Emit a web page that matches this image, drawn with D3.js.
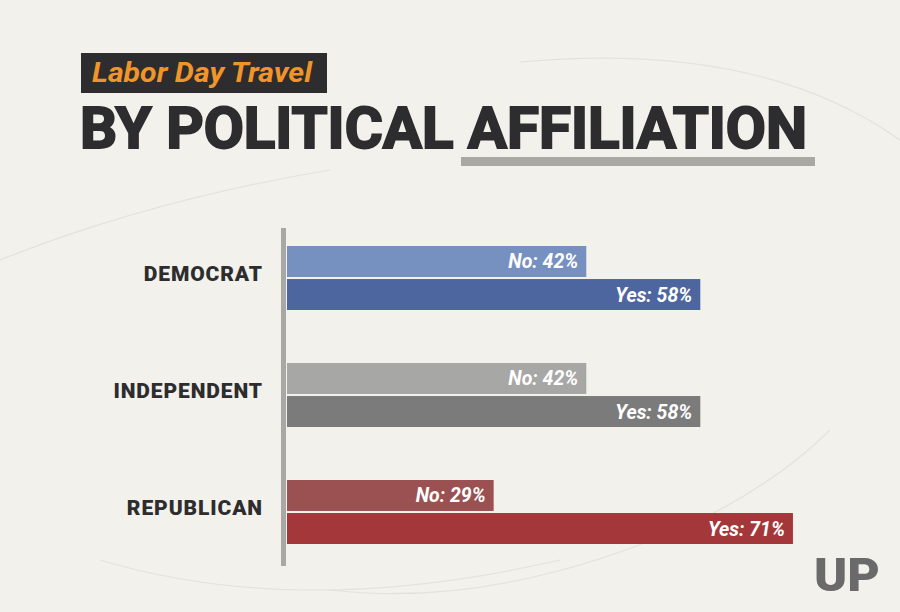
<!DOCTYPE html>
<html><head><meta charset="utf-8">
<script src="https://cdn.jsdelivr.net/npm/d3@7"></script>
<style>
html,body{margin:0;padding:0;background:#f2f1eb;}
svg{display:block;}
</style></head>
<body>
<script>
const categories = ["DEMOCRAT", "INDEPENDENT", "REPUBLICAN"];
const seriesNames = ["No", "Yes"];
const noValues = [42, 42, 29];
const yesValues = [58, 58, 71];
const colorsNo = ["#7690bf", "#a7a7a6", "#9b5051"];
const colorsYes = ["#4d66a0", "#7b7b7b", "#a3373a"];
const subtitle = "Labor Day Travel";
const title = "BY POLITICAL AFFILIATION";

const W = 900, H = 612;
const svg = d3.select("body").append("svg").attr("width", W).attr("height", H);

svg.append("rect").attr("width", W).attr("height", H).attr("fill", "#f2f1eb");

// faint decorative curves
const deco = svg.append("g").attr("fill", "none").attr("stroke", "#e4e2dc").attr("stroke-width", 1.2);
deco.append("path").attr("d", "M520,62 Q760,40 900,140");
deco.append("path").attr("d", "M0,260 Q150,200 330,170");
deco.append("path").attr("d", "M330,590 Q500,610 700,520 Q780,480 830,430");
deco.append("path").attr("d", "M100,560 Q300,620 560,560");

// subtitle box
svg.append("rect").attr("x", 81).attr("y", 53).attr("width", 246).attr("height", 40).attr("fill", "#2d2c2e");
svg.append("text").attr("x", 92).attr("y", 81.5)
  .attr("font-family", "Roboto, 'Liberation Sans', sans-serif")
  .attr("font-style", "italic").attr("font-weight", 700).attr("font-size", 27)
  .attr("fill", "#f0952a").attr("textLength", 220).attr("lengthAdjust", "spacingAndGlyphs")
  .text(subtitle);

// underline
svg.append("rect").attr("x", 461).attr("y", 157).attr("width", 354).attr("height", 9).attr("fill", "#a9a8a3");

// title
svg.append("text").attr("x", 80).attr("y", 148)
  .attr("font-family", "'Liberation Sans Narrow', Roboto, 'Liberation Sans', sans-serif")
  .attr("font-weight", 700).attr("font-size", 58)
  .attr("fill", "#2d2c2e").attr("textLength", 727).attr("lengthAdjust", "spacingAndGlyphs")
  .style("paint-order", "stroke").attr("stroke", "#2d2c2e").attr("stroke-width", 2)
  .text(title);

// scales
const x0 = 287;
const x = d3.scaleLinear().domain([0, 100]).range([x0, x0 + 712.6]);
const y = d3.scaleBand().domain(categories).range([246, 544]).paddingInner(0.453).paddingOuter(0);
const ySub = d3.scaleBand().domain(seriesNames).range([0, y.bandwidth()]).paddingInner(0.0625);

// axis line
svg.append("rect").attr("x", 281).attr("y", 228).attr("width", 5).attr("height", 338).attr("fill", "#a9a8a4");

const rows = categories.map((c, i) => ({
  cat: c,
  bars: [
    {s: "No", v: noValues[i], color: colorsNo[i]},
    {s: "Yes", v: yesValues[i], color: colorsYes[i]}
  ]
}));

const g = svg.append("g").selectAll("g").data(rows).join("g")
  .attr("transform", d => `translate(0,${y(d.cat)})`);

g.append("text")
  .attr("x", 263).attr("y", y.bandwidth() / 2 + 3)
  .attr("text-anchor", "end")
  .attr("font-family", "Roboto, 'Liberation Sans', sans-serif")
  .attr("font-weight", 900).attr("font-size", 21)
  .attr("letter-spacing", 0.9)
  .attr("fill", "#2d2c2e")
  .text(d => d.cat);

const bars = g.selectAll("g.bar").data(d => d.bars).join("g").attr("class", "bar");
bars.append("rect")
  .attr("x", x(0)).attr("y", d => ySub(d.s))
  .attr("width", d => x(d.v) - x(0)).attr("height", ySub.bandwidth())
  .attr("fill", d => d.color);
bars.append("text")
  .attr("x", d => x(d.v) - 8).attr("y", d => ySub(d.s) + ySub.bandwidth() / 2 + 7)
  .attr("text-anchor", "end")
  .attr("font-family", "Roboto, 'Liberation Sans', sans-serif")
  .attr("font-style", "italic").attr("font-weight", 700).attr("font-size", 19.5)
  .attr("fill", "#ffffff")
  .text(d => `${d.s}: ${d.v}%`);

// UP logo
const logo = svg.append("g").attr("fill", "#6b6a6b");
logo.append("text").attr("x", 814).attr("y", 591)
  .attr("font-family", "Roboto, 'Liberation Sans', sans-serif")
  .attr("font-weight", 900).attr("font-size", 46)
  .attr("textLength", 66).attr("lengthAdjust", "spacingAndGlyphs")
  .text("UP");
</script>
</body></html>
